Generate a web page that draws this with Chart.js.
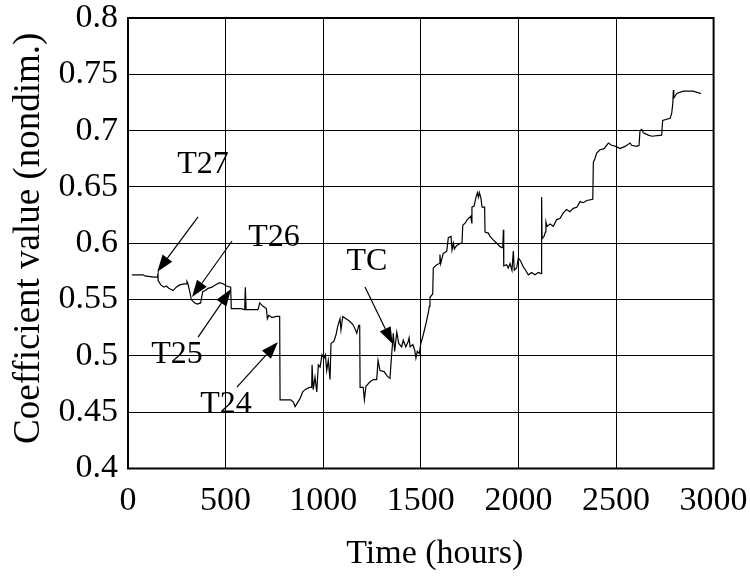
<!DOCTYPE html>
<html>
<head>
<meta charset="utf-8">
<script src="https://cdn.jsdelivr.net/npm/chart.js@4.4.1/dist/chart.umd.min.js"></script>
<style>
html,body{margin:0;padding:0;background:#fff;}
#wrap{width:750px;height:576px;position:relative;}
</style>
</head>
<body>
<div id="wrap"><canvas id="c"></canvas></div>
<script>
// ---- data ----
const hours = [20,77,86,133,150,154,154,168,184,196,209,231,247,265,287,301,302,307,318,324,342,355,372,383,396,410,430,447,470,487,504,526,529,580,598,601,605,666,675,692,709,714,721,738,760,777,779,813,834,847,856,867,881,895,907,929,941,943,949,958,967,975,984,994,1004,1011,1018,1026,1035,1040,1055,1066,1074,1086,1091,1100,1117,1134,1151,1163,1172,1182,1187,1189,1205,1211,1219,1240,1257,1274,1281,1291,1312,1328,1342,1351,1359,1366,1377,1387,1402,1410,1423,1436,1440,1445,1459,1469,1475,1482,1492,1500,1513,1527,1538,1544,1547,1561,1564,1582,1595,1598,1602,1615,1633,1641,1655,1660,1667,1672,1684,1704,1711,1715,1728,1738,1756,1761,1762,1773,1783,1790,1795,1800,1808,1814,1827,1829,1846,1855,1871,1889,1906,1920,1923,1925,1940,1948,1957,1967,1974,1979,1991,2000,2012,2025,2037,2051,2068,2085,2102,2116,2119,2121,2131,2138,2141,2147,2162,2179,2196,2213,2230,2247,2264,2281,2299,2316,2333,2350,2381,2384,2392,2401,2418,2439,2461,2478,2499,2521,2546,2572,2580,2606,2618,2623,2632,2640,2666,2683,2734,2739,2777,2785,2791,2794,2796,2811,2845,2862,2879,2896,2915,2936];
const coef = [0.572,0.572,0.571,0.570,0.570,0.573,0.567,0.563,0.561,0.562,0.560,0.558,0.561,0.563,0.564,0.564,0.566,0.564,0.556,0.550,0.547,0.546,0.547,0.557,0.558,0.560,0.561,0.563,0.565,0.564,0.562,0.561,0.542,0.542,0.541,0.561,0.541,0.541,0.547,0.544,0.542,0.533,0.536,0.534,0.535,0.535,0.461,0.461,0.461,0.459,0.455,0.458,0.462,0.468,0.470,0.472,0.472,0.492,0.470,0.481,0.468,0.492,0.490,0.501,0.498,0.501,0.487,0.496,0.479,0.511,0.513,0.519,0.526,0.533,0.523,0.535,0.533,0.531,0.528,0.524,0.520,0.527,0.527,0.472,0.472,0.461,0.473,0.477,0.479,0.479,0.496,0.487,0.486,0.482,0.480,0.502,0.520,0.504,0.521,0.511,0.508,0.514,0.508,0.513,0.516,0.508,0.510,0.505,0.498,0.504,0.502,0.511,0.519,0.529,0.538,0.544,0.552,0.555,0.578,0.581,0.582,0.590,0.582,0.591,0.593,0.605,0.606,0.594,0.600,0.595,0.598,0.600,0.600,0.616,0.618,0.621,0.624,0.618,0.632,0.633,0.641,0.645,0.641,0.645,0.640,0.632,0.632,0.610,0.609,0.606,0.603,0.600,0.597,0.596,0.612,0.580,0.581,0.578,0.582,0.576,0.593,0.576,0.578,0.587,0.584,0.579,0.576,0.572,0.574,0.572,0.574,0.573,0.641,0.604,0.606,0.610,0.619,0.615,0.617,0.615,0.621,0.622,0.627,0.630,0.628,0.631,0.632,0.637,0.636,0.638,0.639,0.672,0.675,0.680,0.683,0.684,0.689,0.687,0.686,0.684,0.686,0.689,0.687,0.686,0.687,0.700,0.701,0.698,0.696,0.695,0.696,0.709,0.711,0.715,0.724,0.736,0.729,0.733,0.735,0.735,0.735,0.735,0.734,0.733];
const xTickValues = [0,500,1000,1500,2000,2500,3000];
const yTickValues = [0.4,0.45,0.5,0.55,0.6,0.65,0.7,0.75,0.8];
const annLabels = ['T27','T26','T25','T24','TC'];
const xTitle = 'Time (hours)';
const yTitle = 'Coefficient value (nondim.)';

// annotation geometry, in data units: [textX,textY, fromX,fromY, tipX,tipY]
const annGeom = [
  [384,0.6695, 359,0.6235, 150,0.5747],
  [748,0.6046, 533,0.602, 328,0.5522],
  [251,0.5007, 359,0.5167, 528,0.5593],
  [502,0.4563, 558,0.4723, 768,0.5123],
  [1224,0.5833, 1214,0.5611, 1356,0.5105]
];

const SERIF = '"Liberation Serif","Times New Roman",serif';
const points = hours.map((h,i)=>({x:h,y:coef[i]}));

const decor = {
  id:'decor',
  afterDraw(chart){
    const {ctx, chartArea:a, scales:{x,y}} = chart;
    ctx.save();
    ctx.strokeStyle='#000'; ctx.lineWidth=2;
    ctx.strokeRect(a.left, a.top, a.right-a.left, a.bottom-a.top);
    ctx.fillStyle='#000';
    ctx.font = '32px '+SERIF;
    ctx.textAlign='center'; ctx.textBaseline='middle';
    annGeom.forEach((g,i)=>{
      const tx=x.getPixelForValue(g[0]), ty=y.getPixelForValue(g[1]);
      ctx.fillText(annLabels[i], tx, ty);
      const fx=x.getPixelForValue(g[2]), fy=y.getPixelForValue(g[3]);
      const px=x.getPixelForValue(g[4]), py=y.getPixelForValue(g[5]);
      const ang=Math.atan2(py-fy, px-fx);
      const L=17, W=6;
      const bx=px-L*Math.cos(ang), by=py-L*Math.sin(ang);
      ctx.lineWidth=1.2;
      ctx.beginPath(); ctx.moveTo(fx,fy); ctx.lineTo(bx,by); ctx.stroke();
      ctx.beginPath();
      ctx.moveTo(px,py);
      ctx.lineTo(bx+W*Math.sin(ang), by-W*Math.cos(ang));
      ctx.lineTo(bx-W*Math.sin(ang), by+W*Math.cos(ang));
      ctx.closePath(); ctx.fill();
    });
    ctx.font='34px '+SERIF;
    ctx.textBaseline='alphabetic';
    ctx.fillText(xTitle, (a.left+a.right)/2+14, 563);
    ctx.save();
    ctx.font='37px '+SERIF;
    ctx.translate(39, (a.top+a.bottom)/2-5);
    ctx.rotate(-Math.PI/2);
    ctx.fillText(yTitle, 0, 0);
    ctx.restore();
    ctx.restore();
  }
};

new Chart(document.getElementById('c'), {
  type:'line',
  data:{datasets:[{data:points, borderColor:'#000', borderWidth:1.2, pointRadius:0, tension:0, fill:false}]},
  options:{
    responsive:true, maintainAspectRatio:false, animation:false,
    layout:{padding:{top:18,right:36.4,left:0,bottom:0}},
    plugins:{legend:{display:false}, tooltip:{enabled:false}},
    scales:{
      x:{type:'linear', min:0, max:3000,
        afterBuildTicks(s){ s.ticks = xTickValues.map(v=>({value:v})); },
        afterFit(s){ s.height = 107.5; s.paddingLeft = 0; s.paddingRight = 0; },
        ticks:{color:'#000', font:{family:SERIF,size:34}, padding:12, maxRotation:0, callback:v=>String(v)},
        grid:{color:'#000', lineWidth:1, drawTicks:false},
        border:{display:false}
      },
      y:{type:'linear', min:0.4, max:0.8,
        afterBuildTicks(s){ s.ticks = yTickValues.map(v=>({value:v})); },
        afterFit(s){ s.width = 128; s.paddingTop = 0; s.paddingBottom = 0; },
        ticks:{color:'#000', font:{family:SERIF,size:34}, padding:10, callback:v=>String(v)},
        grid:{color:'#000', lineWidth:1, drawTicks:false},
        border:{display:false}
      }
    }
  },
  plugins:[decor]
});
</script>
</body>
</html>
